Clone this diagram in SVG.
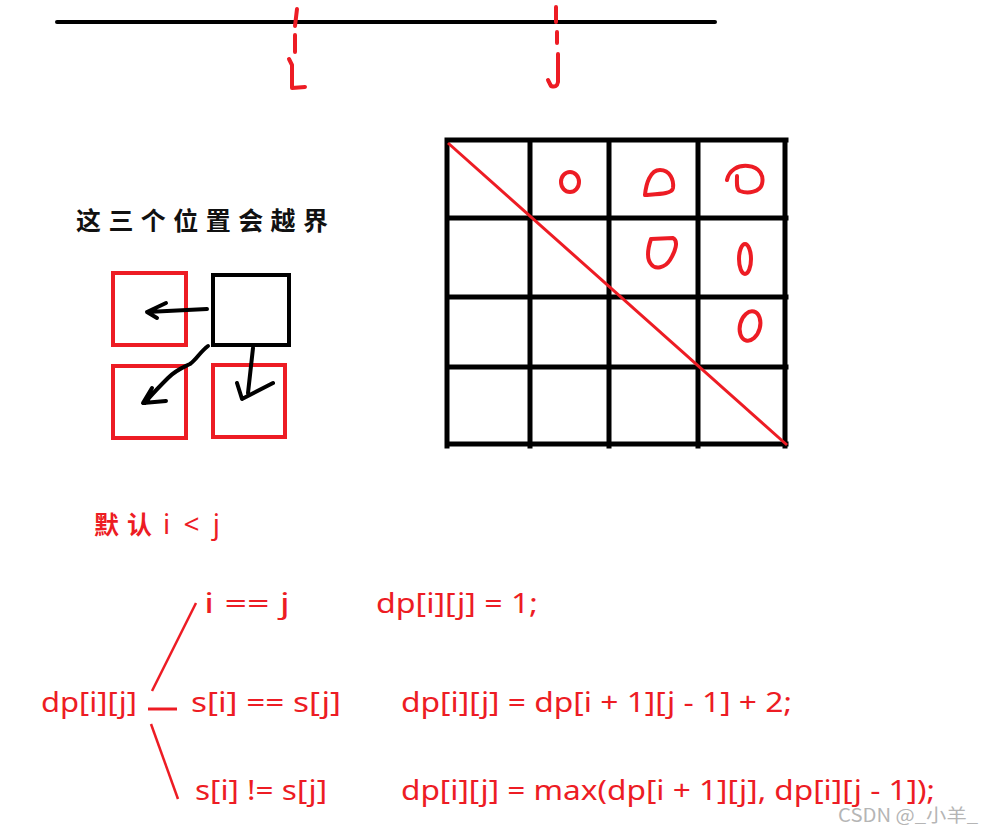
<svg xmlns="http://www.w3.org/2000/svg" width="983" height="831" viewBox="0 0 983 831">
<style>
.blk{stroke:#000;fill:none;stroke-width:4;stroke-linecap:round;stroke-linejoin:round}
.grid{stroke:#000;fill:none;stroke-width:5;stroke-linecap:square}
.red{stroke:#ed1c24;fill:none;stroke-width:4;stroke-linecap:round;stroke-linejoin:round}
.rbox{stroke:#ed1c24;fill:none;stroke-width:4}
.bbox{stroke:#000;fill:none;stroke-width:4}
.t{font-family:"Noto Sans","Liberation Sans",sans-serif;fill:#ed1c24;font-size:28px}
.cjk{font-family:"Noto Sans CJK SC","Noto Sans",sans-serif}
</style>
<rect width="983" height="831" fill="#fff"/>

<!-- top number line -->
<line class="blk" x1="57" y1="22" x2="715" y2="22"/>
<path class="red" d="M297,9 L295,26 M295,35 L295,52 M289,59 L292,65 L292,88 L305,87"/>
<path class="red" d="M556,7 L556,22 M557,32 L557,43 M558,54 L558,82 Q557,88 551,86 L548,80"/>

<!-- heading -->
<text class="cjk" x="76" y="230" font-size="25" font-weight="700" fill="#111" textLength="252" lengthAdjust="spacing">这三个位置会越界</text>

<!-- boxes -->
<rect class="rbox" x="113" y="273" width="73" height="72"/>
<rect class="bbox" x="213" y="275" width="76" height="70"/>
<rect class="rbox" x="113" y="366" width="73" height="72"/>
<rect class="rbox" x="213" y="365" width="72" height="72"/>

<!-- arrows -->
<path class="blk" d="M207,309 L147,312 M166,303 L147,312 L157,318"/>
<path class="blk" d="M208,346 C200,352 196,360 190,364 C182,368 176,370 168,378 C158,388 150,396 145,403 M152,388 L143,403 L166,401"/>
<path class="blk" d="M253,348 L248,393 M237,383 L242,399 L273,383"/>

<!-- grid -->
<path class="grid" d="M447,140 H786 M447,218 H786 M447,297 H786 M447,367 H786 M447,444 H786 M447,140 V446 M530,140 V446 M609,140 V446 M698,140 V446 M785,140 V446"/>
<line x1="448" y1="143" x2="787" y2="445" stroke="#ed1c24" stroke-width="3"/>
<ellipse class="red" cx="570" cy="182" rx="9" ry="10"/>
<path class="red" d="M645,195 C646,184 650,170 660,170 C670,170 674,180 673,188 C672,194 660,194 645,195 Z"/>
<path class="red" d="M727,180 C729,170 738,165 748,166 C760,167 764,176 762,184 C760,192 748,194 740,191 C736,189 737,182 737,176"/>
<path class="red" d="M651,239 L673,238 C679,241 675,252 670,260 C665,268 655,270 651,264 C646,258 648,248 651,239 Z"/>
<ellipse class="red" cx="745" cy="259" rx="6" ry="15"/>
<ellipse class="red" cx="750" cy="326" rx="10" ry="15" transform="rotate(15 750 326)"/>

<!-- bottom formulas -->
<text class="cjk" x="94" y="534" font-size="25" font-weight="700" fill="#ed1c24" textLength="58" lengthAdjust="spacing">默认</text>
<text class="t" x="163" y="534" font-size="24" textLength="57" lengthAdjust="spacing">i &lt; j</text>
<text class="t" x="204" y="613" textLength="86" lengthAdjust="spacingAndGlyphs">i == j</text>
<text class="t" x="376" y="613" textLength="162" lengthAdjust="spacingAndGlyphs">dp[i][j] = 1;</text>
<text class="t" x="41" y="712" textLength="96" lengthAdjust="spacingAndGlyphs">dp[i][j]</text>
<text class="t" x="191" y="712" textLength="150" lengthAdjust="spacingAndGlyphs">s[i] == s[j]</text>
<text class="t" x="401" y="712" textLength="391" lengthAdjust="spacingAndGlyphs">dp[i][j] = dp[i + 1][j - 1] + 2;</text>
<text class="t" x="195" y="800" textLength="132" lengthAdjust="spacingAndGlyphs">s[i] != s[j]</text>
<text class="t" x="401" y="800" textLength="534" lengthAdjust="spacingAndGlyphs">dp[i][j] = max(dp[i + 1][j], dp[i][j - 1]);</text>

<g id="connectors">
<line x1="152" y1="691" x2="196" y2="603" stroke="#ed1c24" stroke-width="2.5"/>
<line x1="148" y1="709" x2="177" y2="709" stroke="#ed1c24" stroke-width="3"/>
<line x1="151" y1="724" x2="178" y2="799" stroke="#ed1c24" stroke-width="2.5"/>
</g>

<text class="cjk" x="838" y="822" font-size="18" fill="#b5b5b5" textLength="140" lengthAdjust="spacingAndGlyphs">CSDN @_小羊_</text>
</svg>
